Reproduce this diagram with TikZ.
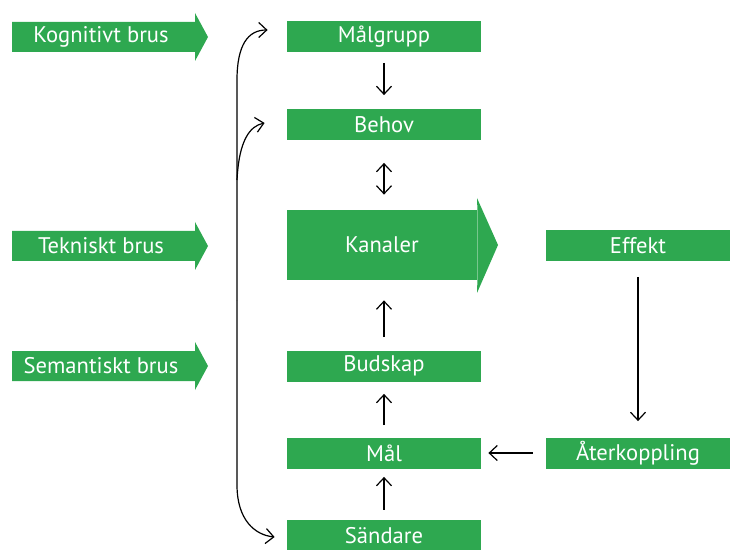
\documentclass[tikz,border=0pt]{standalone}
\usepackage{fontspec}
\setmainfont{PT Sans}
\usetikzlibrary{arrows.meta,calc}
\definecolor{brusgreen}{RGB}{46,168,80}
\tikzset{
  box/.style={fill=brusgreen,text=white,minimum width=97pt,minimum height=15.5pt,inner sep=0pt,font=\fontsize{11.3}{13}\selectfont},
  pil/.style={-{Straight Barb[length=4pt,width=7.5pt]},line width=0.6pt},
}
\begin{document}
\begin{tikzpicture}[x=0.5pt,y=-0.5pt]
  \useasboundingbox (0,0) rectangle (732,550); \clip (0,0) rectangle (732,550);
  % brus till vanster
  \foreach \y/\n/\t in {37/kog/Kognitivt brus,246/tek/Tekniskt brus,366/sem/Semantiskt brus}{
    \fill[brusgreen] (12,\y-15) -- (195,\y-15) -- (195,\y-24) -- (208,\y) -- (195,\y+24) -- (195,\y+15) -- (12,\y+15) -- cycle;
    \node[box,fill=none,minimum width=0pt] (\n) at (101,\y) {\t};
  }
  % mittkolumnen
  \node[box] (mg) at (384,37) {Målgrupp}; \node[box] (beh) at (384,125) {Behov};
  \node[box,minimum width=95pt,minimum height=35pt] (kan) at (382,245) {Kanaler};
  \fill[brusgreen] (kan.north east) -- (477,198) -- (498,245) -- (477,293) -- (kan.south east) -- cycle;
  \node[box] (bud) at (384,366) {Budskap}; \node[box] (mal) at (384,453) {Mål};
  \node[box,minimum height=16pt] (snd) at (384,536) {Sändare};
  \node[box,minimum width=92pt] (eff) at (638,246) {Effekt}; \node[box,minimum width=92pt] (ater) at (638,453) {Återkoppling};
  % pilar
  \draw[pil,shorten <=5pt,shorten >=7pt] (mg) -- (beh);
  \draw[pil,{Straight Barb[length=4pt,width=7.5pt]}-{Straight Barb[length=4pt,width=7.5pt]},shorten <=11pt,shorten >=7.5pt] (beh.south) -- (beh.south |- kan.north);
  \draw[pil,shorten <=6.5pt,shorten >=10pt] (bud.north) -- (bud.north |- kan.south);
  \draw[pil,shorten <=6pt,shorten >=6pt] (mal) -- (bud);
  \draw[pil,shorten <=5pt,shorten >=4pt] (snd) -- (mal);
  \draw[pil,shorten <=7.5pt,shorten >=8pt] (eff) -- (ater);
  \draw[pil,shorten <=6.5pt,shorten >=3.5pt] (ater) -- (mal);
  % klammern
  \coordinate (rygg) at (237,300);
  \draw[pil] (rygg) -- (237,80) .. controls (237,45) and (248,30) .. ($(mg.west)+(-19,-7)$);
  \draw[pil] (237,180) .. controls (239,140) and (250,126) .. ($(beh.west)+(-22,-2)$);
  \draw[pil] (rygg) -- (237,485) .. controls (237,520) and (255,535) .. ($(snd.west)+(-12,1)$);
\end{tikzpicture}
\end{document}
